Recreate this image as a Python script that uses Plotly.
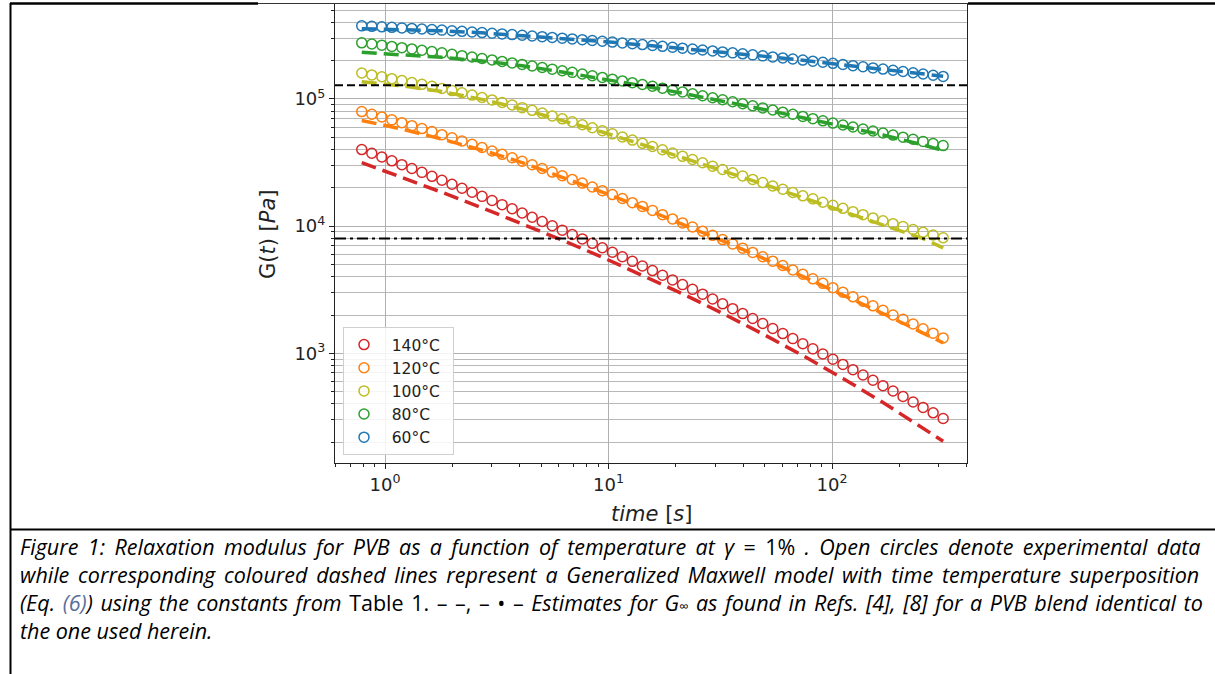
import plotly.graph_objects as go

W, H = 1215, 674

# ---------------- data ----------------
t_exp = [0.787, 0.873, 0.968, 1.073, 1.190, 1.319, 1.463, 1.622, 1.798, 1.994,
         2.211, 2.452, 2.718, 3.014, 3.342, 3.706, 4.109, 4.555, 5.051, 5.601,
         6.209, 6.885, 7.634, 8.464, 9.385, 10.41, 11.54, 12.79, 14.18, 15.73,
         17.44, 19.34, 21.44, 23.77, 26.36, 29.23, 32.40, 35.93, 39.84, 44.17,
         48.98, 54.31, 60.22, 66.77, 74.03, 82.09, 91.01, 100.9, 111.9, 124.1,
         137.6, 152.5, 169.1, 187.5, 207.9, 230.6, 255.6, 283.5, 314.3]

G_140 = [40000, 37400, 34950, 32630, 30450, 28400, 26470, 24650, 22960, 21360,
         19860, 18460, 17140, 15910, 14760, 13690, 12690, 11750, 10880, 10060,
         9300, 8596, 7936, 7326, 6757, 6228, 5740, 5283, 4862, 4471,
         4111, 3776, 3467, 3181, 2917, 2674, 2449, 2242, 2051, 1876,
         1715, 1566, 1429, 1304, 1189, 1083, 987, 898, 817, 743,
         675, 613, 556, 505, 457, 414, 375, 340, 307]
G_120 = [79600, 75800, 72100, 68500, 65100, 61700, 58500, 55400, 52400, 49500,
         46700, 44000, 41500, 39000, 36700, 34500, 32400, 30400, 28400, 26600,
         24900, 23300, 21800, 20300, 19000, 17700, 16500, 15300, 14300, 13300,
         12300, 11400, 10600, 9850, 9130, 8460, 7840, 7250, 6710, 6210,
         5740, 5300, 4900, 4520, 4180, 3850, 3550, 3280, 3020, 2780,
         2570, 2360, 2180, 2000, 1850, 1700, 1560, 1440, 1320]
G_100 = [160100, 154700, 149500, 144500, 139500, 134800, 130300, 125700, 121000, 116400,
         111900, 107300, 102800, 98300, 93900, 89700, 85500, 81400, 77400, 73500,
         69800, 66200, 62700, 59400, 56200, 53200, 50200, 47500, 44800, 42300,
         39900, 37600, 35400, 33400, 31500, 29600, 27900, 26300, 24800, 23300,
         22000, 20700, 19500, 18400, 17300, 16400, 15400, 14600, 13800, 13000,
         12300, 11600, 11000, 10450, 9910, 9410, 8950, 8510, 8100]
G_80 = [276500, 270700, 264900, 259100, 253300, 247500, 241800, 236100, 230500, 224800,
        219200, 213700, 208200, 202800, 197400, 192100, 187000, 181800, 176700, 171700,
        166700, 161900, 157100, 152400, 147800, 143200, 138700, 134300, 130000, 125800,
        121600, 117500, 113600, 109700, 106000, 102200, 98600, 95100, 91700, 88300,
        85100, 81900, 78800, 75800, 72900, 70000, 67300, 64600, 62400, 60200,
        58100, 56000, 54000, 52000, 50100, 48200, 46400, 44600, 43000]
G_60 = [375800, 372600, 369300, 365800, 362400, 358900, 355300, 351600, 348000, 344200,
        340400, 336600, 332700, 328900, 325000, 321000, 317100, 313100, 309000, 305000,
        300900, 296800, 292700, 288600, 284400, 280300, 276100, 272000, 267800, 263600,
        259400, 255300, 251100, 247000, 242800, 238700, 234600, 230500, 226400, 222300,
        218300, 214300, 210300, 206300, 202300, 198400, 194500, 190600, 186800, 182900,
        179200, 175500, 171800, 168100, 164500, 160900, 157300, 153800, 150400]

# Generalized Maxwell model curves (dashed)
t_fit = [0.787, 1.190, 1.798, 2.718, 4.109, 6.209, 9.385, 14.18, 21.44, 32.40,
         48.98, 74.03, 111.9, 169.1, 255.6, 314.3]
fit_140 = [31600, 24210, 18440, 13940, 10450, 7758, 5692, 4121, 2938, 2061,
           1419, 959, 634, 410, 258.5, 203.3]
fit_120 = [67720, 58010, 48310, 39600, 31630, 24350, 18520, 13930, 10375, 7659,
           5608, 4034, 2885, 2055, 1442, 1207]
fit_100 = [136860, 126920, 114290, 99290, 83500, 68220, 54940, 43790, 34620, 27280,
           21470, 16750, 13140, 10290, 7973, 6741]
fit_80 = [232700, 223200, 212600, 198900, 182700, 162900, 144300, 127000, 111000, 96380,
          83130, 71230, 60970, 52150, 43500, 39260]
fit_60 = [357300, 352500, 344000, 331300, 315600, 299500, 283100, 266600, 249900, 233500,
          217300, 201400, 185900, 171000, 157300, 151100]

labels = ["140°C", "120°C", "100°C", "80°C", "60°C"]
colors = ["#d62728", "#ff7f0e", "#bcbd22", "#2ca02c", "#1f77b4"]

# G_inf estimates from the literature
G_inf = [1.28e5, 8.0e3]
G_inf_dash = ["8px,4px", "11px,4px,3px,4px"]

x_tickvals = [1, 10, 100]
x_ticktext = ["10<sup>0</sup>", "10<sup>1</sup>", "10<sup>2</sup>"]
x_minor = [0.6, 0.7, 0.8, 0.9, 2, 3, 4, 5, 6, 7, 8, 9,
           20, 30, 40, 50, 60, 70, 80, 90, 200, 300, 400]
y_tickvals = [1e3, 1e4, 1e5]
y_ticktext = ["10<sup>3</sup>", "10<sup>4</sup>", "10<sup>5</sup>"]
y_minor = [200, 300, 400, 500, 600, 700, 800, 900,
           2000, 3000, 4000, 5000, 6000, 7000, 8000, 9000,
           20000, 30000, 40000, 50000, 60000, 70000, 80000, 90000,
           200000, 300000, 400000, 500000]

x_range = [-0.2237, 2.604]
y_range = [2.137, 5.747]

# ---------------- figure ----------------
fig = go.Figure()

exp_sets = [G_140, G_120, G_100, G_80, G_60]
fit_sets = [fit_140, fit_120, fit_100, fit_80, fit_60]

for lab, col, g, gf in zip(labels, colors, exp_sets, fit_sets):
    fig.add_trace(go.Scatter(
        x=t_exp, y=g, mode="markers", name="\u2002" + lab + "\u2002",
        marker=dict(symbol="circle-open", size=10, color=col,
                    line=dict(width=1.5, color=col)),
    ))
    fig.add_trace(go.Scatter(
        x=t_fit, y=gf, mode="lines", showlegend=False,
        line=dict(color=col, width=3.5, dash="15px,7px"),
    ))

x_edges = [10 ** x_range[0], 10 ** x_range[1]]
for gv, ds in zip(G_inf, G_inf_dash):
    fig.add_trace(go.Scatter(
        x=x_edges, y=[gv, gv], mode="lines", showlegend=False,
        line=dict(color="black", width=2, dash=ds),
    ))

axis_font = dict(family="DejaVu Sans", size=18, color="#222")

fig.update_xaxes(
    type="log", range=x_range, domain=[335 / W, 967 / W],
    showline=True, linecolor="#222", linewidth=1.2, mirror=True,
    ticks="outside", ticklen=5, tickwidth=1, tickcolor="#222",
    tickmode="array", tickvals=x_tickvals, ticktext=x_ticktext,
    tickfont=axis_font,
    showgrid=True, gridcolor="#b0b0b0", gridwidth=1, zeroline=False,
    minor=dict(tickmode="array", tickvals=x_minor, ticks="outside",
               ticklen=3, tickwidth=1, tickcolor="#222", showgrid=False),
)
fig.update_yaxes(
    type="log", range=y_range, domain=[(H - 463) / H, (H - 4) / H],
    showline=True, linecolor="#222", linewidth=1.2, mirror=True,
    ticks="outside", ticklen=5, tickwidth=1, tickcolor="#222",
    tickmode="array", tickvals=y_tickvals, ticktext=y_ticktext,
    tickfont=axis_font,
    showgrid=True, gridcolor="#b0b0b0", gridwidth=1, zeroline=False,
    minor=dict(tickmode="array", tickvals=y_minor, ticks="outside",
               ticklen=3, tickwidth=1, tickcolor="#222", showgrid=True,
               gridcolor="#b8b8b8", gridwidth=1),
)

def px(x):
    return x / W

def py(y):
    return 1 - y / H

annotations = [
    dict(text="G(<i>t</i>) [<i>Pa</i>]", x=px(268), y=py(234), textangle=-90,
         font=dict(family="DejaVu Sans", size=21, color="#222")),
    dict(text="<i>time</i> [<i>s</i>]", x=px(651), y=py(514),
         font=dict(family="DejaVu Sans", size=21, color="#222")),
]

cap_font = dict(family="Open Sans", size=21.5, color="black")
cap_lines = [
    "<i>Figure 1: Relaxation modulus for PVB as a function of temperature at </i><i>γ</i> = 1% <i>. Open circles denote experimental data</i>",
    "<i>while corresponding coloured dashed lines represent a Generalized Maxwell model with time temperature superposition</i>",
    "<i>(Eq. </i><span style='color:#5a6e9c'><i>(6)</i></span><i>) using the constants from</i> Table 1. – –, – • – <i>Estimates for G</i><span style='font-size:13px'>∞</span><i> as found in Refs. [4], [8] for a PVB blend identical to</i>",
    "<i>the one used herein.</i>",
]
cap_wordspacing = [3.8, 3.2, 2.0, 0]
cap_y = [546, 574, 602, 630]
for txt, ws, yy in zip(cap_lines, cap_wordspacing, cap_y):
    annotations.append(dict(
        text="<span style='word-spacing:%.1fpx'>%s</span>" % (ws, txt),
        x=px(18), y=py(yy), xanchor="left", yanchor="middle", font=cap_font))

for a in annotations:
    a.setdefault("xref", "paper")
    a.setdefault("yref", "paper")
    a.setdefault("showarrow", False)
    a.setdefault("xanchor", "center")
    a.setdefault("yanchor", "middle")

shapes = [
    dict(type="line", x0=px(10.5), x1=px(10.5), y0=py(3), y1=py(674),
         line=dict(color="black", width=2)),
    dict(type="line", x0=px(10), x1=px(258), y0=py(3.5), y1=py(3.5),
         line=dict(color="black", width=2.5)),
    dict(type="line", x0=px(258), x1=px(968), y0=py(3.5), y1=py(3.5),
         line=dict(color="#333", width=1)),
    dict(type="line", x0=px(968), x1=px(1215), y0=py(3.5), y1=py(3.5),
         line=dict(color="black", width=2.5)),
    dict(type="line", x0=px(10), x1=px(1215), y0=py(529.5), y1=py(529.5),
         line=dict(color="black", width=2)),
]
for s in shapes:
    s["xref"] = "paper"
    s["yref"] = "paper"

fig.update_layout(
    width=W, height=H,
    margin=dict(l=0, r=0, t=0, b=0),
    paper_bgcolor="white", plot_bgcolor="white",
    annotations=annotations, shapes=shapes,
    legend=dict(x=px(343), y=py(327), xanchor="left", yanchor="top",
                bgcolor="rgba(255,255,255,0.85)", bordercolor="#d0d0d0",
                borderwidth=1, font=dict(family="DejaVu Sans", size=15.5, color="#222"),
                tracegroupgap=0, itemwidth=30),
    showlegend=True,
)

fig.write_html("out.html")
